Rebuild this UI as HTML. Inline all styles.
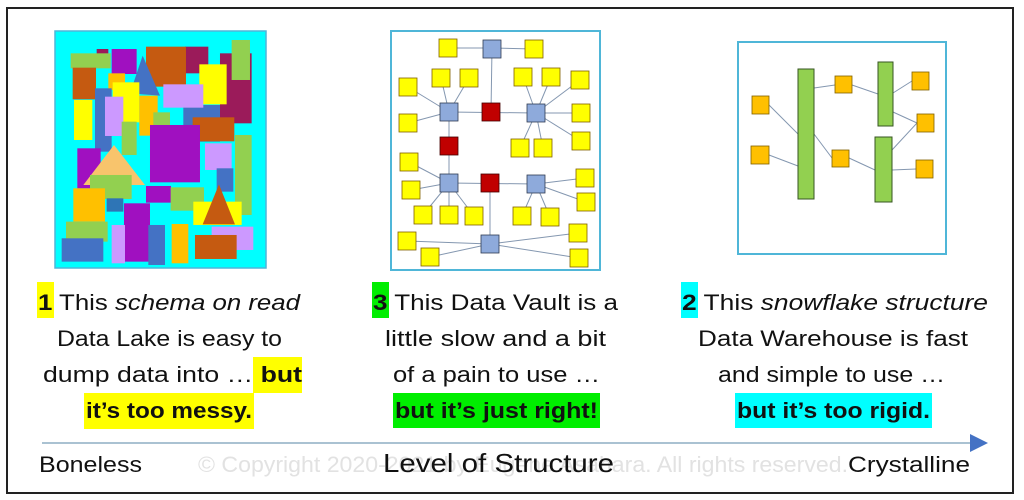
<!DOCTYPE html>
<html><head><meta charset="utf-8"><style>
html,body{margin:0;padding:0;background:#fff;width:1024px;height:500px;overflow:hidden}
svg{display:block}
text{font-family:"Liberation Sans",sans-serif;fill:#111}
</style></head><body>
<svg width="1024" height="500" viewBox="0 0 1024 500" xmlns="http://www.w3.org/2000/svg">
<rect x="7" y="8" width="1006" height="485" fill="#fff" stroke="#222" stroke-width="2"/>

<!-- Panel 1: data lake -->
<rect x="55" y="31" width="211" height="237" fill="#00ffff" stroke="#4fb6d8" stroke-width="1.5"/>
<g transform="translate(50,25) scale(0.3333)">
<rect x="140" y="72" width="35" height="20" fill="#9b1b5a"/>
<rect x="405" y="65" width="70" height="80" fill="#9b1b5a"/>
<rect x="510" y="85" width="95" height="210" fill="#9b1b5a"/>
<rect x="62" y="85" width="120" height="45" fill="#92d050"/>
<rect x="545" y="45" width="55" height="120" fill="#92d050"/>
<rect x="185" y="72" width="75" height="75" fill="#a010c0"/>
<rect x="288" y="65" width="120" height="120" fill="#c55a11"/>
<rect x="68" y="128" width="70" height="95" fill="#c55a11"/>
<polygon points="278,92 240,205 330,212" fill="#4472c4"/>
<rect x="175" y="145" width="50" height="50" fill="#ffc000"/>
<rect x="135" y="190" width="50" height="190" fill="#4472c4"/>
<rect x="400" y="240" width="110" height="110" fill="#4472c4"/>
<rect x="448" y="118" width="82" height="120" fill="#ffff00"/>
<rect x="188" y="172" width="80" height="120" fill="#ffff00"/>
<rect x="72" y="225" width="55" height="120" fill="#ffff00"/>
<rect x="340" y="178" width="120" height="70" fill="#cc99ff"/>
<rect x="165" y="215" width="55" height="118" fill="#cc99ff"/>
<rect x="268" y="212" width="55" height="120" fill="#ffc000"/>
<rect x="310" y="262" width="50" height="115" fill="#92d050"/>
<rect x="215" y="290" width="45" height="100" fill="#92d050"/>
<rect x="428" y="277" width="125" height="72" fill="#c55a11"/>
<rect x="300" y="300" width="150" height="172" fill="#a010c0"/>
<rect x="82" y="370" width="70" height="120" fill="#a010c0"/>
<rect x="465" y="355" width="80" height="80" fill="#cc99ff"/>
<rect x="555" y="330" width="50" height="240" fill="#92d050"/>
<rect x="500" y="430" width="50" height="70" fill="#4472c4"/>
<polygon points="192,360 100,480 285,480" fill="#f8c46c"/>
<rect x="120" y="450" width="125" height="72" fill="#92d050"/>
<rect x="70" y="490" width="95" height="100" fill="#ffc000"/>
<rect x="288" y="483" width="75" height="50" fill="#a010c0"/>
<rect x="362" y="487" width="100" height="70" fill="#92d050"/>
<rect x="170" y="520" width="50" height="40" fill="#2e75b6"/>
<rect x="430" y="530" width="145" height="70" fill="#ffff00"/>
<polygon points="507,478 458,598 555,598" fill="#c55a11"/>
<rect x="222" y="535" width="78" height="175" fill="#a010c0"/>
<rect x="185" y="600" width="40" height="115" fill="#cc99ff"/>
<rect x="295" y="600" width="50" height="120" fill="#4472c4"/>
<rect x="365" y="597" width="50" height="118" fill="#ffc000"/>
<rect x="485" y="605" width="125" height="70" fill="#cc99ff"/>
<rect x="48" y="590" width="125" height="60" fill="#92d050"/>
<rect x="35" y="640" width="125" height="70" fill="#4472c4"/>
<rect x="435" y="630" width="125" height="72" fill="#c55a11"/>
</g>

<!-- Panel 2: data vault -->
<rect x="391" y="31" width="209" height="239" fill="#fff" stroke="#4fb6d8" stroke-width="2"/>
<g stroke="#8497b0" stroke-width="1">
<line x1="448" y1="48" x2="500" y2="48"/><line x1="492" y1="48" x2="534" y2="49"/>
<line x1="492" y1="48" x2="491" y2="112"/>
<line x1="449" y1="112" x2="536" y2="113"/>
<line x1="449" y1="112" x2="441" y2="78"/><line x1="449" y1="112" x2="469" y2="78"/>
<line x1="449" y1="112" x2="408" y2="87"/><line x1="449" y1="112" x2="408" y2="123"/>
<line x1="536" y1="113" x2="523" y2="77"/><line x1="536" y1="113" x2="551" y2="77"/>
<line x1="536" y1="113" x2="580" y2="80"/><line x1="536" y1="113" x2="581" y2="113"/>
<line x1="536" y1="113" x2="581" y2="141"/><line x1="536" y1="113" x2="520" y2="148"/>
<line x1="536" y1="113" x2="543" y2="148"/>
<line x1="449" y1="112" x2="449" y2="183"/>
<line x1="449" y1="183" x2="536" y2="184"/>
<line x1="449" y1="183" x2="409" y2="162"/><line x1="449" y1="183" x2="411" y2="190"/>
<line x1="449" y1="183" x2="423" y2="215"/><line x1="449" y1="183" x2="449" y2="215"/>
<line x1="449" y1="183" x2="474" y2="216"/>
<line x1="536" y1="184" x2="522" y2="216"/><line x1="536" y1="184" x2="550" y2="217"/>
<line x1="536" y1="184" x2="585" y2="178"/><line x1="536" y1="184" x2="586" y2="202"/>
<line x1="490" y1="183" x2="490" y2="244"/>
<line x1="490" y1="244" x2="407" y2="241"/><line x1="490" y1="244" x2="430" y2="257"/>
<line x1="490" y1="244" x2="578" y2="233"/><line x1="490" y1="244" x2="579" y2="258"/>
</g>
<g fill="#ffff00" stroke="#7f6000" stroke-width="0.8">
<rect x="439" y="39" width="18" height="18"/><rect x="525" y="40" width="18" height="18"/>
<rect x="432" y="69" width="18" height="18"/><rect x="460" y="69" width="18" height="18"/>
<rect x="399" y="78" width="18" height="18"/><rect x="514" y="68" width="18" height="18"/>
<rect x="542" y="68" width="18" height="18"/><rect x="571" y="71" width="18" height="18"/>
<rect x="399" y="114" width="18" height="18"/><rect x="572" y="104" width="18" height="18"/>
<rect x="511" y="139" width="18" height="18"/><rect x="534" y="139" width="18" height="18"/>
<rect x="572" y="132" width="18" height="18"/><rect x="400" y="153" width="18" height="18"/>
<rect x="402" y="181" width="18" height="18"/><rect x="576" y="169" width="18" height="18"/>
<rect x="577" y="193" width="18" height="18"/><rect x="414" y="206" width="18" height="18"/>
<rect x="440" y="206" width="18" height="18"/><rect x="465" y="207" width="18" height="18"/>
<rect x="513" y="207" width="18" height="18"/><rect x="541" y="208" width="18" height="18"/>
<rect x="398" y="232" width="18" height="18"/><rect x="421" y="248" width="18" height="18"/>
<rect x="569" y="224" width="18" height="18"/><rect x="570" y="249" width="18" height="18"/>
</g>
<g fill="#8eaadb" stroke="#2f3b52" stroke-width="0.8">
<rect x="483" y="40" width="18" height="18"/><rect x="440" y="103" width="18" height="18"/>
<rect x="527" y="104" width="18" height="18"/><rect x="440" y="174" width="18" height="18"/>
<rect x="527" y="175" width="18" height="18"/><rect x="481" y="235" width="18" height="18"/>
</g>
<g fill="#c00000" stroke="#400" stroke-width="0.8">
<rect x="482" y="103" width="18" height="18"/><rect x="440" y="137" width="18" height="18"/>
<rect x="481" y="174" width="18" height="18"/>
</g>

<!-- Panel 3: snowflake -->
<rect x="738" y="42" width="208" height="212" fill="#fff" stroke="#4fb6d8" stroke-width="2"/>
<g stroke="#8497b0" stroke-width="1">
<line x1="769" y1="105" x2="798" y2="134"/><line x1="769" y1="155" x2="798" y2="166"/>
<line x1="814" y1="88" x2="835" y2="85"/><line x1="852" y1="85" x2="878" y2="94"/>
<line x1="814" y1="134" x2="832" y2="158"/><line x1="849" y1="158" x2="875" y2="170"/>
<line x1="893" y1="93" x2="912" y2="81"/><line x1="893" y1="112" x2="917" y2="123"/>
<line x1="892" y1="150" x2="917" y2="123"/><line x1="892" y1="170" x2="916" y2="169"/>
</g>
<g fill="#92d050" stroke="#375623" stroke-width="1">
<rect x="798" y="69" width="16" height="130"/><rect x="878" y="62" width="15" height="64"/>
<rect x="875" y="137" width="17" height="65"/>
</g>
<g fill="#ffc000" stroke="#7f6000" stroke-width="0.8">
<rect x="752" y="96" width="17" height="18"/><rect x="751" y="146" width="18" height="18"/>
<rect x="835" y="76" width="17" height="17"/><rect x="832" y="150" width="17" height="17"/>
<rect x="912" y="72" width="17" height="18"/><rect x="917" y="114" width="17" height="18"/>
<rect x="916" y="160" width="17" height="18"/>
</g>

<!-- highlights -->
<rect x="37" y="282" width="17" height="36" fill="#ffff00"/>
<rect x="253" y="357" width="49" height="36" fill="#ffff00"/>
<rect x="84" y="393" width="170" height="36" fill="#ffff00"/>
<rect x="372" y="282" width="17" height="36" fill="#00ee00"/>
<rect x="393" y="393" width="207" height="35" fill="#00ee00"/>
<rect x="681" y="282" width="17" height="36" fill="#00ffff"/>
<rect x="735" y="393" width="197" height="35" fill="#00ffff"/>

<!-- Text panel 1 -->
<g font-size="22">
<text x="38" y="310" textLength="262" lengthAdjust="spacingAndGlyphs"><tspan font-weight="bold">1</tspan> This <tspan font-style="italic">schema on read</tspan></text>
<text x="57" y="346" textLength="225" lengthAdjust="spacingAndGlyphs">Data Lake is easy to</text>
<text x="43" y="382" textLength="259" lengthAdjust="spacingAndGlyphs">dump data into … <tspan font-weight="bold">but</tspan></text>
<text x="86" y="418" textLength="166" lengthAdjust="spacingAndGlyphs" font-weight="bold">it’s too messy.</text>

<text x="373" y="310" textLength="245" lengthAdjust="spacingAndGlyphs"><tspan font-weight="bold">3</tspan> This Data Vault is a</text>
<text x="385" y="346" textLength="221" lengthAdjust="spacingAndGlyphs">little slow and a bit</text>
<text x="393" y="382" textLength="207" lengthAdjust="spacingAndGlyphs">of a pain to use …</text>
<text x="395" y="418" textLength="203" lengthAdjust="spacingAndGlyphs" font-weight="bold">but it’s just right!</text>

<text x="682" y="310" textLength="306" lengthAdjust="spacingAndGlyphs"><tspan font-weight="bold">2</tspan> This <tspan font-style="italic">snowflake structure</tspan></text>
<text x="698" y="346" textLength="270" lengthAdjust="spacingAndGlyphs">Data Warehouse is fast</text>
<text x="718" y="382" textLength="227" lengthAdjust="spacingAndGlyphs">and simple to use …</text>
<text x="737" y="418" textLength="193" lengthAdjust="spacingAndGlyphs" font-weight="bold">but it’s too rigid.</text>
</g>

<!-- axis -->
<line x1="42" y1="443" x2="972" y2="443" stroke="#8eaec4" stroke-width="1.5"/>
<polygon points="970,434 988,443 970,452" fill="#4472c4"/>
<text x="198" y="472" font-size="22" style="fill:#e2e2e2" textLength="650" lengthAdjust="spacingAndGlyphs">© Copyright 2020-2021 by Eugene Asahara. All rights reserved.</text>
<text x="39" y="472" font-size="22" textLength="103" lengthAdjust="spacingAndGlyphs">Boneless</text>
<text x="383" y="472" font-size="26" textLength="231" lengthAdjust="spacingAndGlyphs">Level of Structure</text>
<text x="848" y="472" font-size="22" textLength="122" lengthAdjust="spacingAndGlyphs">Crystalline</text>
</svg>
</body></html>
